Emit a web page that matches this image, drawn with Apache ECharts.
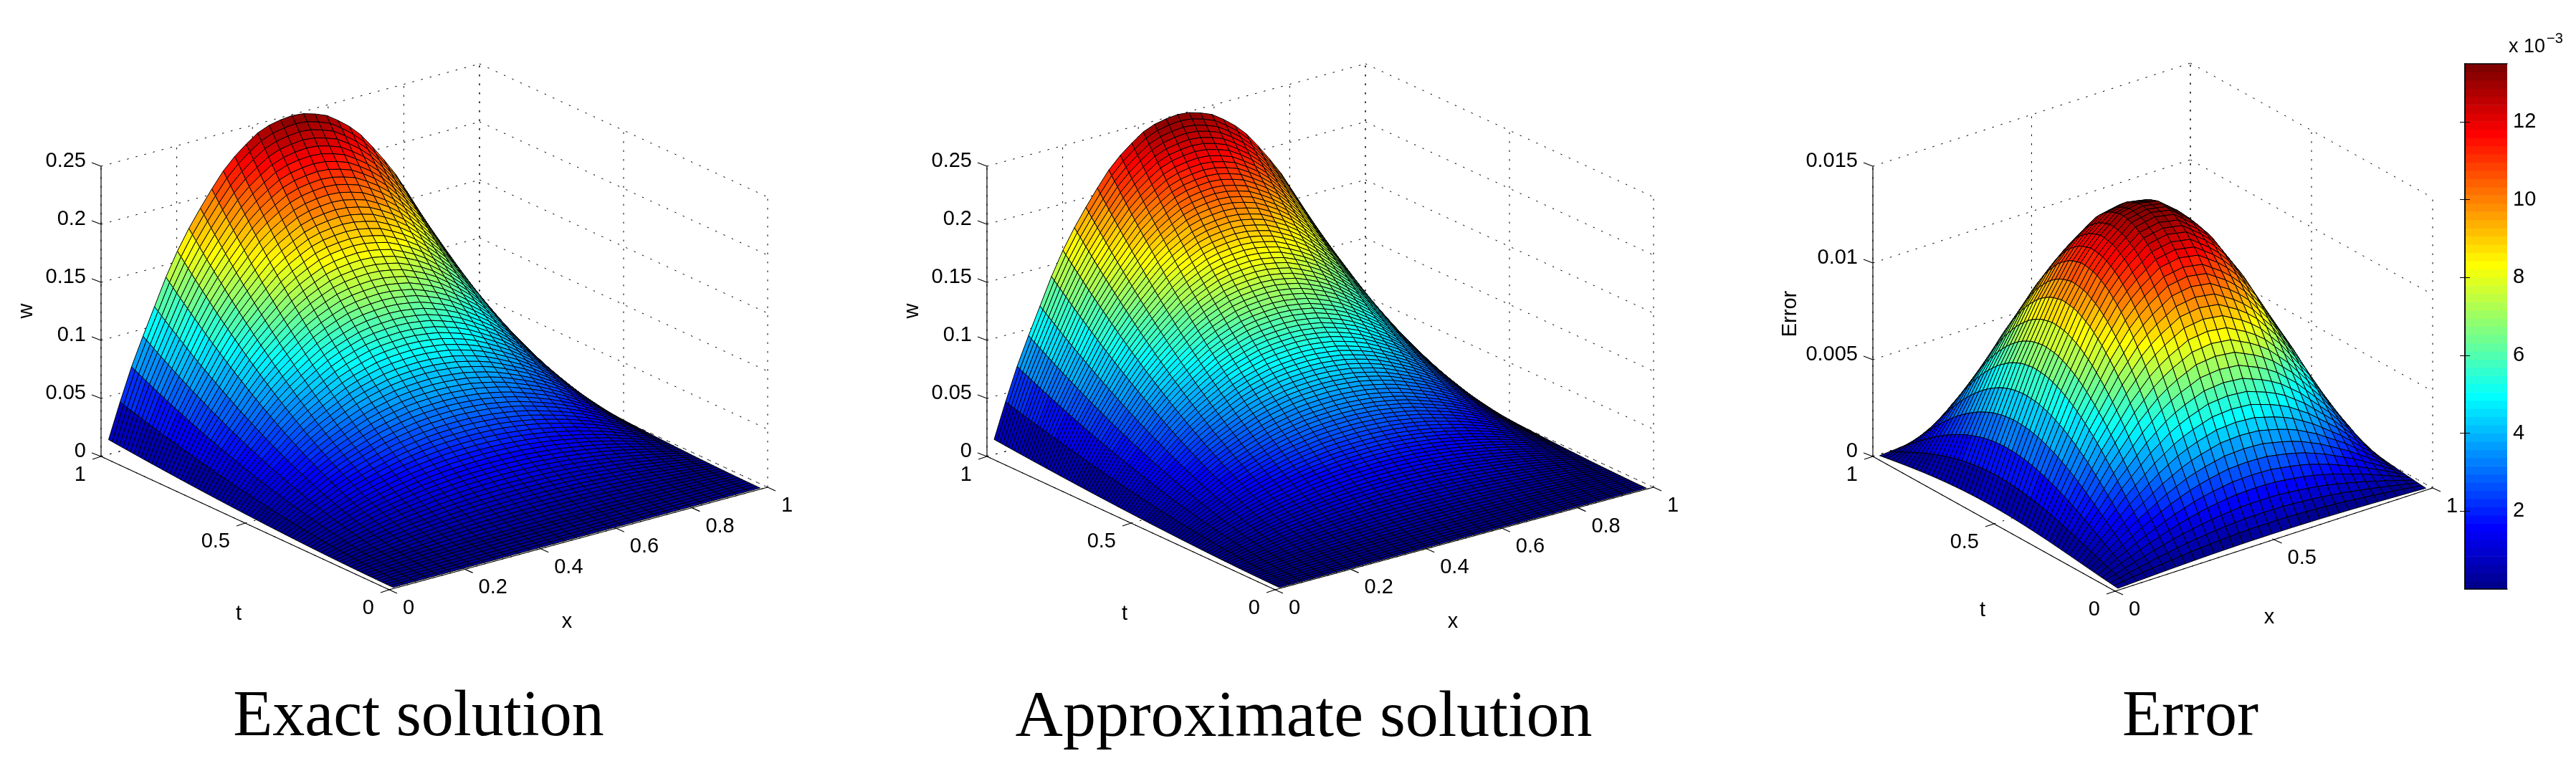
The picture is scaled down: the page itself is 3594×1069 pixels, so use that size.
<!DOCTYPE html>
<html><head><meta charset="utf-8">
<style>html,body{margin:0;padding:0;background:#fff}#c{width:3594px;height:1069px}</style>
<script src="https://cdn.jsdelivr.net/npm/echarts@6/dist/echarts.min.js"></script>
</head><body><div id="c"></div>
<script>
// Profiles. Each surface is drawn as (profile along x) * (profile along t).
const exactX = [.014,.044,.072,.096,.119,.142,.162,.179,.194,.208,.221,.231,.239,.246,.250,.252,.253,.252,.249,.245,.238,.230,.220,.207,.193,.178,.160,.141,.119,.096,.071,.044,.015];
const exactT = [.000,.001,.002,.0035,.006,.009,.012,.014,.018,.022,.027,.031,.036,.041,.047,.052,.059,.065,.072,.079,.087,.095,.103,.111,.119,.128,.137,.146,.156,.166,.177,.187,.198,.209,.221,.232,.244,.256,.269,.281,.294,.307,.321,.334,.348,.363,.377,.392,.407,.422,.438,.453,.469,.485,.502,.518,.535,.552,.570,.587,.605,.623,.642,.660,.679,.698,.717,.736,.756,.776,.797,.817,.838,.859,.880,.901,.923,.945,.967,.989];
const approxX = [.014,.044,.072,.096,.119,.142,.162,.179,.194,.208,.221,.231,.239,.246,.250,.252,.253,.252,.249,.245,.238,.230,.220,.207,.193,.178,.160,.141,.119,.096,.071,.044,.015];
const approxT = [.000,.001,.0015,.003,.005,.0075,.010,.013,.016,.019,.022,.026,.030,.034,.038,.0425,.0475,.0525,.0575,.0625,.068,.074,.080,.086,.092,.098,.105,.112,.119,.126,.133,.141,.1485,.156,.164,.172,.181,.1895,.198,.207,.216,.225,.234,.243,.252,.262,.272,.2825,.293,.303,.313,.324,.335,.346,.357,.368,.379,.391,.403,.414,.426,.438,.450,.463,.475,.487,.500,.513,.526,.539,.552,.565,.579,.593,.606,.620,.634,.648,.663,.677,.692,.707,.721,.737,.752,.767,.782,.797,.813,.828,.844,.860,.876,.893,.909,.925,.942,.958,.975,.992];
const errorX = [.00065,.0019,.0032,.0044,.0056,.0068,.0078,.0088,.0098,.0106,.0114,.0120,.0125,.0129,.0133,.0134,.0135,.0134,.0133,.0129,.0125,.0120,.0114,.0106,.0098,.0088,.0078,.0068,.0056,.0044,.0032,.0019,.00065];
const errorT = [.017,.050,.083,.120,.160,.200,.242,.283,.325,.367,.409,.451,.493,.535,.577,.617,.655,.693,.728,.760,.792,.822,.849,.876,.899,.920,.940,.956,.969,.982,.990,.994,.998,.999,.993,.987,.978,.964,.949,.930,.906,.882,.854,.822,.789,.753,.714,.674,.630,.583,.535,.484,.430,.377,.322,.264,.208,.149,.090,.030];
const xTicksSolution = [0,0.2,0.4,0.6,0.8,1];
const xTicksError = [0,0.5,1];
const tTicks = [0,0.5,1];
const wTicksSolution = [0,0.05,0.1,0.15,0.2,0.25];
const wTicksError = [0,0.005,0.01,0.015];
const colorbarTicks = [2,4,6,8,10,12];
const figureTitles = ['Exact solution','Approximate solution','Error'];

const W = 3594, H = 1069;
const panels = [
 {X:exactX,T:exactT,xTicks:xTicksSolution,zTicks:wTicksSolution,top:.25,zName:'w',
  A:[141,637],ex:[528,-143],et:[402,186],zs:1620,zl:[37,434],tl:[333,857],xl:[791,868],cx:579,fs:90},
 {X:approxX,T:approxT,xTicks:xTicksSolution,zTicks:wTicksSolution,top:.25,zName:'w',
  A:[1377,637],ex:[528,-143],et:[402,186],zs:1620,zl:[1273,434],tl:[1569,857],xl:[2027,868],cx:1814,fs:92},
 {X:errorX,T:errorT,xTicks:xTicksError,zTicks:wTicksError,top:.015,zName:'Error',
  A:[2613,637],ex:[443,-144],et:[338,188],zs:405/.015,zl:[2498,438],tl:[2766,852],xl:[3166,862],cx:3051,fs:90}
];
const proj=(p,x,t,w)=>[p.A[0]+x*p.ex[0]+(1-t)*p.et[0], p.A[1]+x*p.ex[1]+(1-t)*p.et[1]-w*p.zs];

function jet(k){const v=(k+1)/64,c=a=>Math.round(255*Math.max(0,Math.min(1,1.5-Math.abs(4*v-a))));
  return `rgb(${c(3)},${c(2)},${c(1)})`;}
const fmt=v=>String(v);

// box: segments in plot units
const segs=[], texts=[];
panels.forEach(p=>{
  const dotted=(a,b)=>segs.push([...a,...b,1]), solid=(a,b)=>segs.push([...a,...b,0]);
  const P=(x,t,w)=>proj(p,x,t,w);
  p.zTicks.forEach(z=>{dotted(P(0,1,z),P(1,1,z));dotted(P(1,1,z),P(1,0,z));});
  p.xTicks.forEach(x=>{dotted(P(x,1,0),P(x,1,p.top));dotted(P(x,0,0),P(x,1,0));});
  tTicks.forEach(t=>{dotted(P(1,t,0),P(1,t,p.top));dotted(P(0,t,0),P(1,t,0));});
  solid(P(0,1,0),P(0,1,p.top));solid(P(0,1,0),P(0,0,0));solid(P(0,0,0),P(1,0,0));
  p.zTicks.forEach(z=>{const a=P(0,1,z);solid(a,[a[0]-13,a[1]-5]);
    texts.push({s:fmt(z),x:a[0]-21,y:a[1]-7,al:'right'});});
  tTicks.forEach(t=>{const a=P(0,t,0);solid(a,[a[0]-12,a[1]+4]);
    texts.push({s:fmt(t),x:a[0]-21,y:a[1]+26,al:'right'});});
  p.xTicks.forEach(x=>{const a=P(x,0,0);solid(a,[a[0]+11,a[1]+5]);
    texts.push({s:fmt(x),x:a[0]+19,y:a[1]+26,al:'left'});});
  texts.push({s:p.zName,x:p.zl[0],y:p.zl[1],al:'center',rot:Math.PI/2});
  texts.push({s:'t',x:p.tl[0],y:p.tl[1],al:'center'});
  texts.push({s:'x',x:p.xl[0],y:p.xl[1],al:'center'});
});

function surfaceSeries(p){
  const N=p.X.length,M=p.T.length,Z=p.T.map(tv=>p.X.map(xv=>xv*tv));
  let lo=Infinity,hi=-Infinity;Z.forEach(r=>r.forEach(v=>{lo=Math.min(lo,v);hi=Math.max(hi,v);}));
  const xn=i=>(i+.5)/N,tn=j=>(j+.5)/M,cells=[];
  for(let j=M-2;j>=0;j--)for(let i=N-2;i>=0;i--)cells.push([i,j]);
  return {type:'custom',coordinateSystem:'cartesian2d',xAxisIndex:0,yAxisIndex:0,silent:true,animation:false,progressive:0,clip:false,z:3,
    data:cells,
    renderItem(par,api){
      const i=api.value(0),j=api.value(1);
      const pts=[[i,j],[i+1,j],[i+1,j+1],[i,j+1]].map(([a,b])=>api.coord(proj(p,xn(a),tn(b),Z[b][a])));
      const k=Math.min(63,Math.floor((Z[j][i]-lo)/(hi-lo)*64));
      return {type:'polygon',shape:{points:pts},style:{fill:jet(k),stroke:'#000',lineWidth:1}};
    }};
}

const cbBands=[];for(let k=0;k<64;k++)cbBands.push(k);
const cbMax=13.49;
const option={
  animation:false,backgroundColor:'#fff',
  title:figureTitles.map((t,i)=>({text:t,left:panels[i].cx,top:952,textAlign:'center',
    textStyle:{fontFamily:'Liberation Serif',fontWeight:'normal',fontSize:panels[i].fs,color:'#000'}})),
  grid:[{left:0,top:0,width:W,height:H},{left:3439,top:89,width:59,height:733}],
  xAxis:[{type:'value',min:0,max:W,show:false,gridIndex:0},
    {type:'value',min:0,max:1,gridIndex:1,position:'bottom',z:6,axisLine:{show:true,onZero:false,lineStyle:{color:'#000',width:1.5}},axisTick:{show:false},axisLabel:{show:false},splitLine:{show:false}},
    {type:'value',min:0,max:1,gridIndex:1,position:'top',z:6,axisLine:{show:true,onZero:false,lineStyle:{color:'#000',width:1.5}},axisTick:{show:false},axisLabel:{show:false},splitLine:{show:false}}],
  yAxis:[{type:'value',min:0,max:H,inverse:true,show:false,gridIndex:0},
    {type:'value',min:0,max:cbMax,gridIndex:1,position:'right',z:6,axisLine:{show:true,lineStyle:{color:'#000',width:1.5}},
      axisTick:{show:true,inside:true,length:7,customValues:colorbarTicks,lineStyle:{color:'#000',width:1}},
      axisLabel:{show:true,customValues:colorbarTicks,margin:8,fontFamily:'Liberation Sans',fontSize:29,color:'#000'},splitLine:{show:false}},
    {type:'value',min:0,max:cbMax,gridIndex:1,position:'left',z:6,axisLine:{show:true,lineStyle:{color:'#000',width:1.5}},
      axisTick:{show:true,inside:true,length:7,customValues:colorbarTicks,lineStyle:{color:'#000',width:1}},
      axisLabel:{show:false},splitLine:{show:false}}],
  graphic:[
    {type:'text',left:3500,top:52,z:10,style:{text:'x 10',font:'27px "Liberation Sans"',fill:'#000'}},
    {type:'text',left:3553,top:44,z:10,style:{text:'−3',font:'20px "Liberation Sans"',fill:'#000'}}
  ],
  series:[
    {type:'custom',coordinateSystem:'cartesian2d',xAxisIndex:0,yAxisIndex:0,silent:true,animation:false,progressive:0,clip:false,z:1,
     data:segs.map(s=>[s[0],s[1]]),
     renderItem(par,api){const s=segs[par.dataIndex],a=api.coord([s[0],s[1]]),b=api.coord([s[2],s[3]]);
       return {type:'line',shape:{x1:a[0],y1:a[1],x2:b[0],y2:b[1]},
         style:{stroke:'#000',lineWidth:s[4]?1:1.2,lineDash:s[4]?[2.5,10]:null,fill:null}};}},
    ...panels.map(surfaceSeries),
    {type:'custom',coordinateSystem:'cartesian2d',xAxisIndex:0,yAxisIndex:0,silent:true,animation:false,progressive:0,clip:false,z:5,
     data:texts.map(t=>[t.x,t.y]),
     renderItem(par,api){const t=texts[par.dataIndex],a=api.coord([t.x,t.y]);
       return {type:'text',x:a[0],y:a[1],rotation:t.rot||0,
         style:{text:t.s,font:'29px "Liberation Sans"',fill:'#000',textAlign:t.al,textVerticalAlign:'middle'}};}},
    {type:'custom',coordinateSystem:'cartesian2d',xAxisIndex:1,yAxisIndex:1,silent:true,animation:false,progressive:0,z:3,
     data:cbBands.map(k=>[0,k*cbMax/64]),
     renderItem(par,api){const k=par.dataIndex,a=api.coord([0,k*cbMax/64]),b=api.coord([1,(k+1)*cbMax/64]);
       return {type:'rect',shape:{x:a[0],y:b[1],width:b[0]-a[0],height:a[1]-b[1]+.6},style:{fill:jet(k)}};}}
  ]
};
const chart=echarts.init(document.getElementById('c'),null,{renderer:'canvas',width:W,height:H,devicePixelRatio:1});
chart.setOption(option);
</script></body></html>
